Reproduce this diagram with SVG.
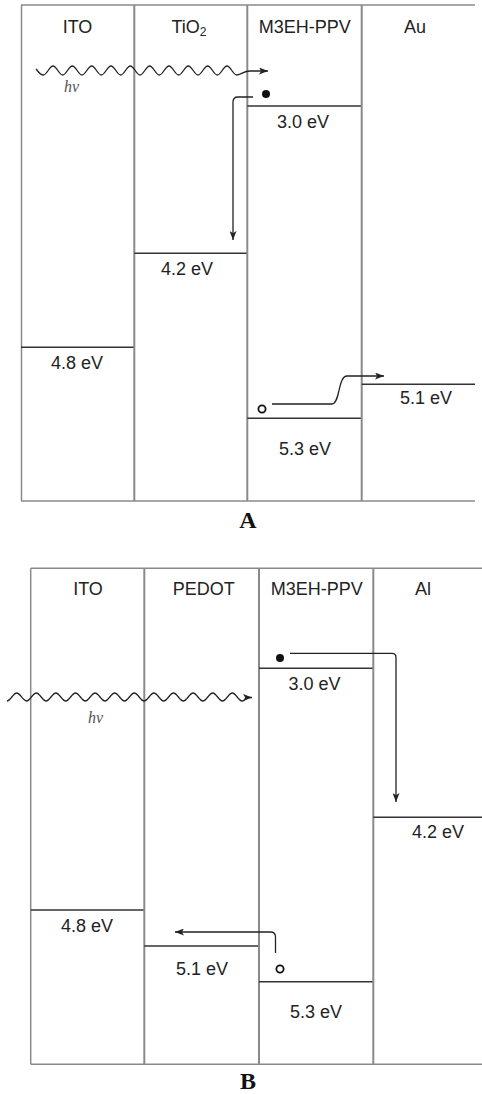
<svg xmlns="http://www.w3.org/2000/svg" width="482" height="1094" viewBox="0 0 482 1094">
<style>
.frame{stroke:#8a8a8a;stroke-width:1.5;fill:none}
.div{stroke:#8a8a8a;stroke-width:2;fill:none}
.level{stroke:#333;stroke-width:1.5;fill:none}
.lbl{font-family:"Liberation Sans",Arial,sans-serif;font-size:18px;fill:#222;text-anchor:middle}
.hv{font-family:"Liberation Serif","Times New Roman",serif;font-style:italic;font-size:16px;fill:#555}
.panel{font-family:"Liberation Serif","Times New Roman",serif;font-weight:bold;font-size:24px;fill:#111;text-anchor:middle}
.arrow{stroke:#222;stroke-width:1.3;fill:none;marker-end:url(#ah)}
.wave{stroke:#222;stroke-width:1.3;fill:none;marker-end:url(#ah)}
.el{fill:#111}
.hole{fill:none;stroke:#111;stroke-width:1.8}
</style>
<defs>
<marker id="ah" markerWidth="9" markerHeight="7" refX="9" refY="3.5" orient="auto" markerUnits="userSpaceOnUse">
<path d="M0 0 L9 3.5 L0 7 L2.2 3.5 Z" fill="#222"/>
</marker>
</defs>
<rect x="0" y="0" width="482" height="1094" fill="#fff"/>

<!-- Panel A -->
<g id="panelA">
<path class="frame" d="M21 5 H475 M21 501 H475 M21.5 5 V501"/>
<g id="A-ITO">
<text class="lbl" x="77.5" y="33">ITO</text>
<path class="level" d="M21 347.3 H134.3"/>
<text class="lbl" x="77" y="369">4.8 eV</text>
</g>
<g id="A-TiO2">
<path class="div" d="M134.3 5 V501"/>
<text class="lbl" x="189" y="33">TiO<tspan font-size="12" dy="3">2</tspan></text>
<path class="level" d="M134.3 253.3 H247.3"/>
<text class="lbl" x="187" y="275">4.2 eV</text>
</g>
<g id="A-M3EH-PPV">
<path class="div" d="M247.3 5 V501"/>
<text class="lbl" x="304.7" y="33">M3EH-PPV</text>
<path class="level" d="M247.3 106 H361.7"/>
<text class="lbl" x="303" y="127.5">3.0 eV</text>
<path class="level" d="M247.3 418.3 H361.7"/>
<text class="lbl" x="305" y="455">5.3 eV</text>
<circle class="el" cx="266" cy="94" r="4"/>
<circle class="hole" cx="262" cy="409" r="3.6"/>
</g>
<g id="A-Au">
<path class="div" d="M361.7 5 V501"/>
<text class="lbl" x="415" y="33">Au</text>
<path class="level" d="M361.7 384.3 H475"/>
<text class="lbl" x="426" y="404">5.1 eV</text>
</g>
<text class="hv" x="64" y="92">hv</text>
<text class="panel" x="248" y="528">A</text>
</g>

<!-- Panel B -->
<g id="panelB">
<path class="frame" d="M30.7 568.3 H482 M30.7 1064.3 H482 M30.7 568.3 V1064.3"/>
<g id="B-ITO">
<text class="lbl" x="88" y="595">ITO</text>
<path class="level" d="M30.7 910 H144.3"/>
<text class="lbl" x="87" y="931.5">4.8 eV</text>
</g>
<g id="B-PEDOT">
<path class="div" d="M144.3 568.3 V1064.3"/>
<text class="lbl" x="203.7" y="595">PEDOT</text>
<path class="level" d="M144.3 946 H259"/>
<text class="lbl" x="202" y="975">5.1 eV</text>
</g>
<g id="B-M3EH-PPV">
<path class="div" d="M259 568.3 V1064.3"/>
<text class="lbl" x="316.7" y="595">M3EH-PPV</text>
<path class="level" d="M259 668.3 H373.3"/>
<text class="lbl" x="314.5" y="690">3.0 eV</text>
<path class="level" d="M259 981.7 H373.3"/>
<text class="lbl" x="316" y="1017.5">5.3 eV</text>
<circle class="el" cx="280" cy="658" r="4"/>
<circle class="hole" cx="280" cy="969" r="3.6"/>
</g>
<g id="B-Al">
<path class="div" d="M373.3 568.3 V1064.3"/>
<text class="lbl" x="423" y="595">Al</text>
<path class="level" d="M373.3 817.3 H482"/>
<text class="lbl" x="438" y="838">4.2 eV</text>
</g>
<text class="hv" x="88" y="723">hv</text>
<text class="panel" x="248" y="1089">B</text>
</g>

<!-- Connectors -->
<g id="connectors">
<path class="wave" d="M36 69 C37.5 70.5 39.81 75 43.33 75 s6.15 -9 9.667 -9 s6.15 9 9.667 9 s6.15 -9 9.667 -9 s6.15 9 9.667 9 s6.15 -9 9.667 -9 s6.15 9 9.667 9 s6.15 -9 9.667 -9 s6.15 9 9.667 9 s6.15 -9 9.667 -9 s6.15 9 9.667 9 s6.15 -9 9.667 -9 s6.15 9 9.667 9 s6.15 -9 9.667 -9 s6.15 9 9.667 9 s6.15 -9 9.667 -9 s6.15 9 9.667 9 s6.15 -9 9.667 -9 s6.15 9 9.667 9 s6.15 -9 9.667 -9 s6.15 9 9.667 9 C240.2 75 244 71 250 71 L268 71"/>
<path class="arrow" d="M253 97 H238 Q233 97 233 102 V240"/>
<path class="arrow" d="M272 404 H332 C340 404 338 376 347 376 H384"/>
<path class="wave" d="M7 701 C10.5 701 13.2 693 16.7 693 s6.23 8 9.8 8 s6.23 -8 9.8 -8 s6.23 8 9.8 8 s6.23 -8 9.8 -8 s6.23 8 9.8 8 s6.23 -8 9.8 -8 s6.23 8 9.8 8 s6.23 -8 9.8 -8 s6.23 8 9.8 8 s6.23 -8 9.8 -8 s6.23 8 9.8 8 s6.23 -8 9.8 -8 s6.23 8 9.8 8 s6.23 -8 9.8 -8 s6.23 8 9.8 8 s6.23 -8 9.8 -8 s6.23 8 9.8 8 s6.23 -8 9.8 -8 s6.23 8 9.8 8 s6.23 -8 9.8 -8 s6.23 8 9.8 8 s6.23 -8 9.8 -8 s6.23 8 9.8 8 C245 701 246 697.5 249 697.5 L252 697.5"/>
<path class="arrow" d="M290 653.3 H392 Q396 653.3 396 657.3 V802"/>
<path class="arrow" d="M275.5 953 V937 Q275.5 932 270.5 932 H175"/>
</g>
</svg>
